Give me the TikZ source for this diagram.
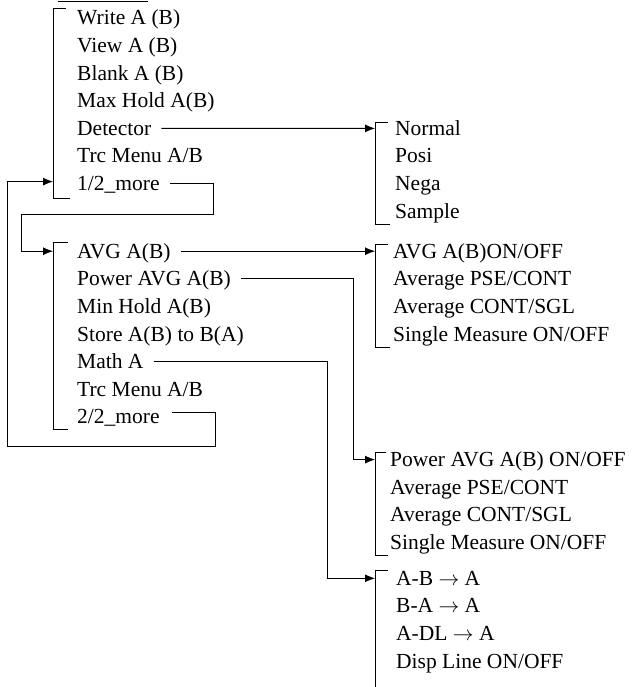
\documentclass[tikz,border=0pt]{standalone}
\usepackage{fontspec}
\setmainfont{Liberation Serif}
\usetikzlibrary{arrows.meta}

\begin{document}
\begin{tikzpicture}[x=1pt,y=-1pt,
  item/.style={anchor=west, inner sep=0pt, text height=16pt, text depth=2pt, font=\fontsize{21.5}{24}\selectfont},
  link/.style={line width=0.8pt},
  arr/.style={link, -{Latex[length=10pt,width=8pt]}}]
\useasboundingbox (0,0) rectangle (631,687);
% cut-off edge at the top
\draw[link] (58,1) -- (148,1);
% first menu page
\foreach \t [count=\i from 0] in {Write A (B),View A (B),Blank A (B),Max Hold A(B),Detector,Trc Menu A/B,1/2\_more}
  \node[item] (pa\i) at (77,18+27.6*\i) {\t};
\draw[link] (66,8) -| (53,198) -- (70,198);
% second menu page
\foreach \t [count=\i from 0] in {AVG A(B),Power AVG A(B),Min Hold A(B),Store A(B) to B(A),Math A,Trc Menu A/B,2/2\_more}
  \node[item] (pb\i) at (77,251.2+27.6*\i) {\t};
\draw[link] (68,242) -| (53,429) -- (68,429);
% sub menus
\foreach \t [count=\i from 0] in {Normal,Posi,Nega,Sample}
  \node[item] (dt\i) at (395,128.4+27.6*\i) {\t};
\draw[link] (388,122) -| (375,224) -- (390,224);
\foreach \t [count=\i from 0] in {AVG A(B)ON/OFF,Average PSE/CONT,Average CONT/SGL,Single Measure ON/OFF}
  \node[item] (av\i) at (393,251.2+27.6*\i) {\t};
\draw[link] (388,244) -| (375,347) -- (390,347);
\foreach \t [count=\i from 0] in {Power AVG A(B) ON/OFF,Average PSE/CONT,Average CONT/SGL,Single Measure ON/OFF}
  \node[item] (pw\i) at (390,459.6+27.6*\i) {\t};
\draw[link] (386,452) -| (375,555) -- (388,555);
\foreach \t [count=\i from 0] in {A-B $\rightarrow$ A,B-A $\rightarrow$ A,A-DL $\rightarrow$ A,Disp Line ON/OFF}
  \node[item] (mt\i) at (396,578.3+27.6*\i) {\t};
\draw[link] (388,570) -| (375,687);
% arrow targets on the brackets
\coordinate (b1) at (53,181.6);
\coordinate (b2) at (53,251.2);
\coordinate (bd) at (375,128.4);
\coordinate (ba) at (375,251.2);
\coordinate (bp) at (375,459.6);
\coordinate (bm) at (375,578.3);
% links
\draw[arr] ([xshift=10pt]pa4.east) -- (bd);
\draw[arr] ([xshift=10pt]pb0.east) -- (ba);
\draw[arr] ([xshift=10pt]pb1.east) -| ([xshift=-22pt]bp) -- (bp);
\draw[arr] ([xshift=10pt]pb4.east) -| ([xshift=-48pt]bm) -- (bm);
\draw[arr] ([xshift=10pt]pa6.east) -| (213,214) -| ([xshift=-32pt]b2) -- (b2);
\draw[arr] ([xshift=12pt,yshift=4pt]pb6.east) -| (215,446) -| ([xshift=-46pt]b1) -- (b1);
\end{tikzpicture}
\end{document}
